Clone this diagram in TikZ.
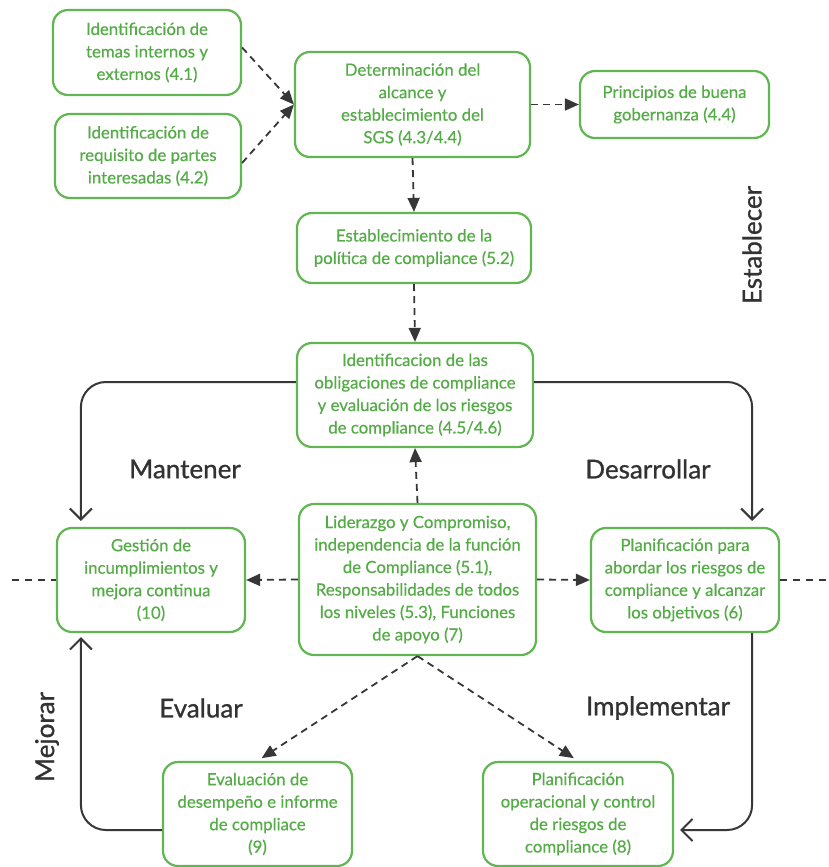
\documentclass[tikz,border=0pt]{standalone}
\usepackage{fontspec}
\setmainfont{Lato}
\newfontfamily\boxfont[FakeBold=0.5]{Lato}
\newfontfamily\phasefont[FakeBold=0.9]{Lato}
\usetikzlibrary{arrows.meta,calc}
\definecolor{boxgreen}{RGB}{96,182,80}
\definecolor{txtgreen}{RGB}{84,172,70}
\definecolor{darkline}{RGB}{55,55,55}
\definecolor{labelgray}{RGB}{50,50,50}
\tikzset{
  box/.style={draw=boxgreen, line width=2.2pt, rounded corners=15pt, text=txtgreen,
    align=center, inner sep=0pt, font=\boxfont\fontsize{16.8}{22.5}\selectfont},
  dasharrow/.style={draw=darkline, line width=1.8pt, dash pattern=on 7pt off 5pt,
    -{Triangle[length=14pt,width=12pt,fill=darkline]}},
  dashline/.style={draw=darkline, line width=1.6pt, dash pattern=on 7pt off 6pt},
  loop/.style={draw=darkline, line width=2pt, rounded corners=25pt,
    -{Straight Barb[length=11pt,width=22pt,line width=2pt]}},
  phase/.style={text=labelgray, font=\phasefont\fontsize{26}{30}\selectfont}
}
\begin{document}
\begin{tikzpicture}[x=1pt,y=-1pt]
\fill[white] (0,0) rectangle (828,867);
\useasboundingbox (0,0) rectangle (828,867);

\node[box, minimum width=188pt, minimum height=85pt] (b1) at (147,52.5)
  {Identificación de\\temas internos y\\externos (4.1)};
\node[box, minimum width=186pt, minimum height=84pt] (b2) at (148,156)
  {Identificación de\\requisito de partes\\interesadas (4.2)};
\node[box, minimum width=235pt, minimum height=105pt] (b3) at (412.5,104.5)
  {Determinación del\\alcance y\\establecimiento del\\SGS (4.3/4.4)};
\node[box, minimum width=189pt, minimum height=67pt] (b4) at (674.5,104.5)
  {Principios de buena\\gobernanza (4.4)};
\node[box, minimum width=234pt, minimum height=70pt] (b5) at (414,248)
  {Establecimiento de la\\política de compliance (5.2)};
\node[box, minimum width=236pt, minimum height=104pt] (b6) at (415,395)
  {Identificacion de las\\obligaciones de compliance\\y evaluación de los riesgos\\de compliance (4.5/4.6)};
\node[box, minimum width=237pt, minimum height=151pt] (b7) at (417.5,579.5)
  {Liderazgo y Compromiso,\\independencia de la función\\de Compliance (5.1),\\Responsabilidades de todos\\los niveles (5.3), Funciones\\de apoyo (7)};
\node[box, minimum width=188pt, minimum height=104pt] (b8) at (151,580)
  {Gestión de\\incumplimientos y\\mejora continua\\(10)};
\node[box, minimum width=188pt, minimum height=104pt] (b9) at (685,580)
  {Planificación para\\abordar los riesgos de\\compliance y alcanzar\\los objetivos (6)};
\node[box, minimum width=189pt, minimum height=104pt] (b10) at (257.5,814)
  {Evaluación de\\desempeño e informe\\de compliace\\(9)};
\node[box, minimum width=190pt, minimum height=104pt] (b11) at (578,814)
  {Planificación\\operacional y control\\de riesgos de\\compliance (8)};

\node[phase] (lm) at (185,469) {Mantener};
\node[phase] (ld) at (648,469) {Desarrollar};
\node[phase] (le) at (201,708) {Evaluar};
\node[phase] (li) at (658,708) {Implementar};
\node[phase, rotate=90] (les) at (752,245) {Establecer};
\node[phase, rotate=90] (lmj) at (47,737) {Mejorar};

\coordinate (dl) at (12,580);
\coordinate (dr) at (828,580);

\draw[dasharrow] ([yshift=5pt]b1.east) -- (b3.west);
\draw[dasharrow] ([yshift=-7pt]b2.east) -- (b3.west);
\draw[dasharrow] (b3.east) -- (b4.west);
\draw[dasharrow] (b3.south) -- (b5.north);
\draw[dasharrow] (b5.south) -- (b6.north);
\draw[dasharrow] (b7.north) -- (b6.south);
\draw[dasharrow] (b7.west) -- (b8.east);
\draw[dasharrow] (b7.east) -- (b9.west);
\draw[dasharrow, shorten >=5pt] (b7.south) -- (b10.north);
\draw[dasharrow, shorten >=5pt] (b7.south) -- (b11.north);
\draw[dashline] (dl) -- (b8.west);
\draw[dashline] (b9.east) -- (dr);

\draw[loop, shorten >=6pt] ([yshift=13pt]b6.west) -| ([xshift=25pt]b8.north west);
\draw[loop, shorten >=6pt] ([yshift=13pt]b6.east) -| ([xshift=-28pt]b9.north east);
\draw[loop, shorten >=6pt] ([xshift=-28pt]b9.south east) |- ([yshift=-16pt]b11.east);
\draw[loop, shorten >=4pt] ([yshift=-16pt]b10.west) -| ([xshift=25pt]b8.south west);
\end{tikzpicture}
\end{document}
